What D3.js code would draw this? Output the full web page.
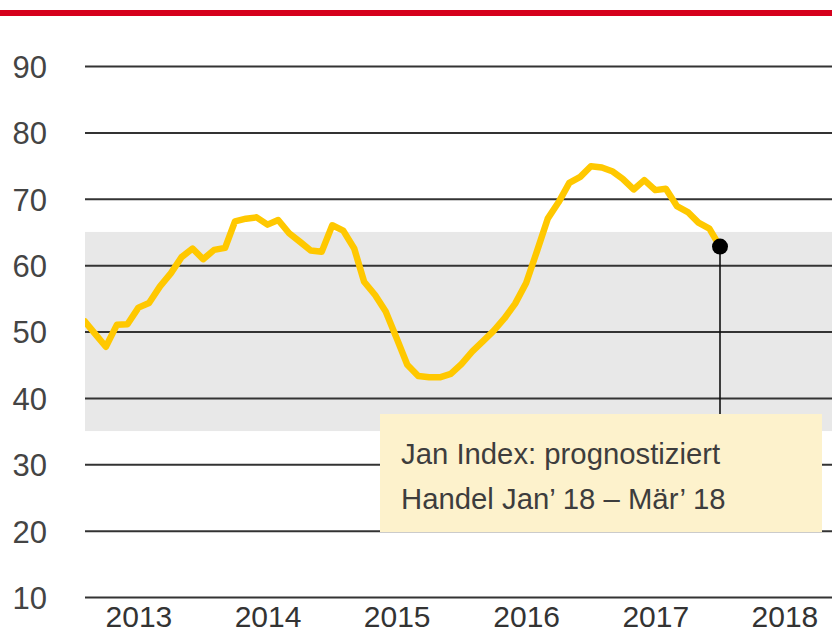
<!DOCTYPE html>
<html>
<head>
<meta charset="utf-8">
<script src="https://cdn.jsdelivr.net/npm/d3@7/dist/d3.min.js"></script>
<style>
  html, body { margin: 0; padding: 0; background: #fff; }
  svg { display: block; font-family: "Liberation Sans", Arial, sans-serif; }
</style>
</head>
<body>
<svg id="chart" width="832" height="634"></svg>
<script>
// ---- data ----
const startYear = 2013;
const startMonth = 0; // January 2013
const values = [
  51.5, 49.5, 47.7, 51.0, 51.1, 53.6, 54.3, 56.8, 58.8, 61.2, 62.5, 60.9,   // 2013
  62.3, 62.6, 66.6, 67.0, 67.2, 66.1, 66.8, 64.8, 63.5, 62.2, 62.0, 66.0,   // 2014
  65.2, 62.5, 57.5, 55.5, 53.0, 49.0, 45.0, 43.3, 43.1, 43.1, 43.6, 45.1,   // 2015
  47.0, 48.6, 50.1, 52.0, 54.2, 57.3, 62.0, 67.0, 69.5, 72.4, 73.3, 74.9,   // 2016
  74.7, 74.1, 73.0, 71.4, 72.8, 71.3, 71.5, 68.9, 68.0, 66.4, 65.5, 62.8    // 2017
];
const yTicks = [10, 20, 30, 40, 50, 60, 70, 80, 90];
const yearLabels = [2013, 2014, 2015, 2016, 2017, 2018];
const bandRange = [35, 65];
const annotationLines = ["Jan Index: prognostiziert", "Handel Jan\u2019 18 \u2013 M\u00e4r\u2019 18"];
const dropLineTo = 37.5;

const data = values.map((v, i) => ({ date: new Date(startYear, startMonth + i, 1), value: v }));

// ---- layout ----
const svg = d3.select("#chart");
const W = 832, H = 634;
const plotLeft = 85, plotRight = 832;

const x = d3.scaleTime()
  .domain([data[0].date, data[data.length - 1].date])
  .range([85, 720]);
const y = d3.scaleLinear().domain([10, 90]).range([597, 66]);

// red top bar
svg.append("rect").attr("x", 0).attr("y", 10).attr("width", W).attr("height", 6).attr("fill", "#d5001c");

// grey band
svg.append("rect")
  .attr("x", plotLeft).attr("width", plotRight - plotLeft)
  .attr("y", y(bandRange[1])).attr("height", y(bandRange[0]) - y(bandRange[1]))
  .attr("fill", "#e8e8e8");

// y gridlines + labels
const yAxis = d3.axisLeft(y).tickValues(yTicks).tickSize(-(plotRight - plotLeft)).tickPadding(38).tickFormat(d3.format("d"));
const gy = svg.append("g").attr("transform", `translate(${plotLeft},0)`).call(yAxis);
gy.select(".domain").remove();
gy.selectAll(".tick line").attr("stroke", "#333").attr("stroke-width", 2);
gy.selectAll(".tick text")
  .attr("fill", "#444").attr("font-size", 31)
  .attr("font-family", "'Liberation Sans', Arial, sans-serif")
  .attr("dy", "0.37em");

// x labels
const xAxis = d3.axisBottom(x)
  .tickValues(yearLabels.map(yr => new Date(yr, 5, 1)))
  .tickSize(0).tickPadding(0)
  .tickFormat(d3.timeFormat("%Y"));
const gx = svg.append("g").attr("transform", `translate(0,627)`).call(xAxis);
gx.select(".domain").remove();
gx.selectAll(".tick text")
  .attr("fill", "#333").attr("font-size", 30).attr("dy", 0)
  .attr("font-family", "'Liberation Sans', Arial, sans-serif");

// clip
svg.append("clipPath").attr("id", "plotclip")
  .append("rect").attr("x", plotLeft).attr("y", 0).attr("width", plotRight - plotLeft).attr("height", H);

// line
const line = d3.line().x(d => x(d.date)).y(d => y(d.value));
svg.append("path")
  .datum(data)
  .attr("clip-path", "url(#plotclip)")
  .attr("d", line)
  .attr("fill", "none")
  .attr("stroke", "#ffc800")
  .attr("stroke-width", 6.5)
  .attr("stroke-linejoin", "round")
  .attr("stroke-linecap", "round");

// drop line and dot
const last = data[data.length - 1];
svg.append("line")
  .attr("x1", x(last.date)).attr("x2", x(last.date))
  .attr("y1", y(last.value)).attr("y2", y(dropLineTo))
  .attr("stroke", "#111").attr("stroke-width", 1.6);
svg.append("circle")
  .attr("cx", x(last.date)).attr("cy", y(last.value)).attr("r", 8)
  .attr("fill", "#000");

// annotation box
const box = svg.append("g");
box.append("rect").attr("x", 380).attr("y", 414).attr("width", 442).attr("height", 118).attr("fill", "#fdf2cc");
box.selectAll("text").data(annotationLines).join("text")
  .attr("x", 401).attr("y", (d, i) => 464 + i * 45)
  .attr("font-size", 29.3).attr("fill", "#3d3d3d")
  .text(d => d);
</script>
</body>
</html>
